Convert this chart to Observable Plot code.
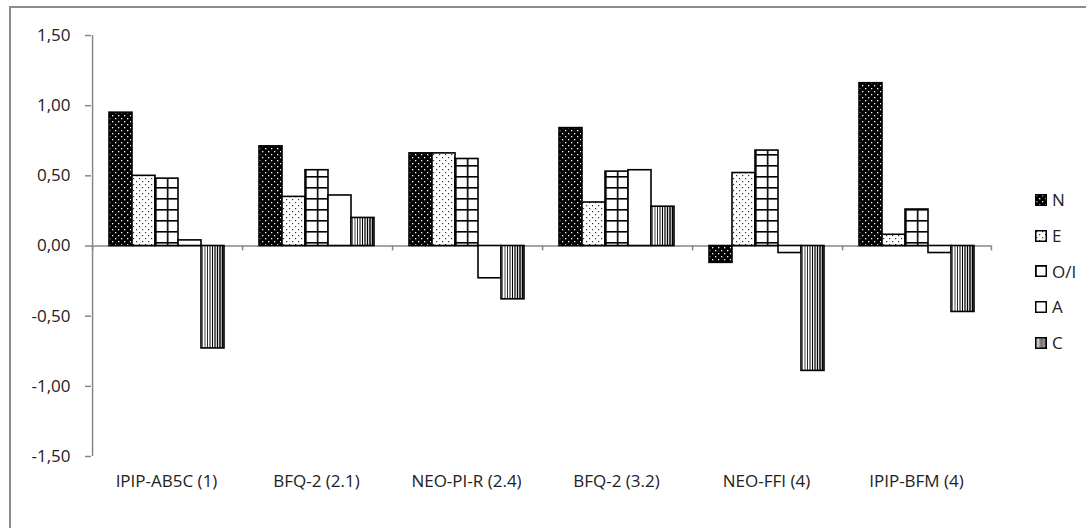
<!DOCTYPE html>
<html>
<head>
<meta charset="utf-8">
<script src="https://cdn.jsdelivr.net/npm/d3@7"></script>
<script src="https://cdn.jsdelivr.net/npm/@observablehq/plot@0.6"></script>
<style>
  body { margin: 0; background: #fff; }
  #wrap { position: relative; width: 1086px; height: 528px; overflow: hidden; font-family: "Open Sans", sans-serif; }
  #wrap > svg { position: absolute; left: 0; top: 0; }
  #border { position: absolute; left: 9px; top: 6px; width: 1100px; height: 540px;
            border-top: 2px solid #8c8c8c; border-left: 2px solid #8c8c8c; pointer-events: none; }
  #legend { position: absolute; left: 1035px; top: 182px; color: #222; font-size: 17px; }
  #legend .item { display: flex; align-items: center; height: 35.7px; }
  #legend svg { margin-right: 5px; }
</style>
</head>
<body>
<div id="wrap"><div id="border"></div><div id="legend"></div></div>
<script>
// Inventories (groups) and the five trait series
const tests = ["IPIP-AB5C (1)", "BFQ-2 (2.1)", "NEO-PI-R (2.4)", "BFQ-2 (3.2)", "NEO-FFI (4)", "IPIP-BFM (4)"];
const traits = ["N", "E", "O/I", "A", "C"];
const valuesN = [0.95, 0.71, 0.66, 0.84, -0.12, 1.16];
const valuesE = [0.50, 0.35, 0.66, 0.31, 0.52, 0.08];
const valuesO = [0.48, 0.54, 0.62, 0.53, 0.68, 0.26];
const valuesA = [0.04, 0.36, -0.23, 0.54, -0.05, -0.05];
const valuesC = [-0.73, 0.20, -0.38, 0.28, -0.89, -0.47];
const yTicks = [-1.5, -1, -0.5, 0, 0.5, 1, 1.5];

const seriesValues = [valuesN, valuesE, valuesO, valuesA, valuesC];
const rows = [];
tests.forEach((t, i) => traits.forEach((tr, j) => rows.push({test: t, trait: tr, value: seriesValues[j][i]})));

const patternId = {"N": "pat-n", "E": "pat-e", "O/I": "pat-o", "A": "pat-a", "C": "pat-c"};
const fillOf = tr => `url(#${patternId[tr]})`;

// layout
const W = 1086, H = 528;
const margin = {top: 35, right: 93, bottom: 72, left: 88};
const padOuter = 0.71;
const facetW = (W - margin.left - margin.right) / tests.length;
const step = facetW / (traits.length + 2 * padOuter);
const edge = step * (padOuter + 0.5); // distance from first bar centre to group edge

const fmt = d => d.toFixed(2).replace(".", ",");
const axisGray = "#868686";
const textColor = "#222";

const chart = Plot.plot({
  width: W,
  height: H,
  marginTop: margin.top,
  marginRight: margin.right,
  marginBottom: margin.bottom,
  marginLeft: margin.left,
  style: {fontFamily: "'Open Sans', sans-serif", fontSize: "17px", background: "transparent"},
  fx: {domain: tests, padding: 0, label: null},
  x: {domain: traits, paddingInner: 0, paddingOuter: padOuter, axis: null},
  y: {domain: [-1.5, 1.5], label: null},
  color: {type: "identity"},
  marks: [
    Plot.axisY({ticks: yTicks, tickFormat: fmt, tickSize: 6, tickPadding: 15, stroke: axisGray, fill: textColor, strokeWidth: 1.5, fontSize: 17, label: null}),
    Plot.axisFx({anchor: "bottom", tickSize: 0, tickPadding: 18, fill: textColor, fontSize: 17, label: null}),
    // vertical value axis line
    Plot.ruleX([tests[0]], {fx: d => d, x: () => traits[0], dx: -edge, y1: -1.5, y2: 1.5, stroke: axisGray, strokeWidth: 1.5}),
    // category boundary ticks under the zero line
    Plot.ruleX(tests, {fx: d => d, x: () => traits[0], dx: -edge, y1: 0, y2: -0.035, stroke: axisGray, strokeWidth: 1.5}),
    Plot.ruleX([tests[tests.length - 1]], {fx: d => d, x: () => traits[traits.length - 1], dx: edge, y1: 0, y2: -0.035, stroke: axisGray, strokeWidth: 1.5}),
    Plot.ruleY([0], {stroke: axisGray, strokeWidth: 1.5}),
    Plot.barY(rows, {fx: "test", x: "trait", y: "value", fill: d => fillOf(d.trait), stroke: "#000", strokeWidth: 1.6})
  ]
});

// pattern definitions used by the bars and the legend
function addPatterns(svgNode) {
  const defs = d3.select(svgNode).insert("defs", ":first-child");
  // N: black with white dots
  const pn = defs.append("pattern").attr("id", "pat-n").attr("patternUnits", "userSpaceOnUse").attr("width", 6).attr("height", 6);
  pn.append("rect").attr("width", 6).attr("height", 6).attr("fill", "#000");
  pn.append("rect").attr("x", 1).attr("y", 1).attr("width", 1.3).attr("height", 1.3).attr("fill", "#fff");
  pn.append("rect").attr("x", 4).attr("y", 4).attr("width", 1.3).attr("height", 1.3).attr("fill", "#fff");
  // E: white with black dots
  const pe = defs.append("pattern").attr("id", "pat-e").attr("patternUnits", "userSpaceOnUse").attr("width", 6).attr("height", 6);
  pe.append("rect").attr("width", 6).attr("height", 6).attr("fill", "#fff");
  pe.append("rect").attr("x", 1).attr("y", 1).attr("width", 1.2).attr("height", 1.2).attr("fill", "#333");
  pe.append("rect").attr("x", 4).attr("y", 4).attr("width", 1.2).attr("height", 1.2).attr("fill", "#333");
  // O/I: large grid
  const po = defs.append("pattern").attr("id", "pat-o").attr("patternUnits", "userSpaceOnUse").attr("width", 11.7).attr("height", 11);
  po.append("rect").attr("width", 11.7).attr("height", 11).attr("fill", "#fff");
  po.append("rect").attr("x", 0).attr("y", 0).attr("width", 1.6).attr("height", 11).attr("fill", "#000");
  po.append("rect").attr("x", 0).attr("y", 0).attr("width", 11.7).attr("height", 1.6).attr("fill", "#000");
  // A: plain white
  const pa = defs.append("pattern").attr("id", "pat-a").attr("patternUnits", "userSpaceOnUse").attr("width", 4).attr("height", 4);
  pa.append("rect").attr("width", 4).attr("height", 4).attr("fill", "#fff");
  // C: vertical stripes that get denser to the right
  const pc = defs.append("pattern").attr("id", "pat-c").attr("patternUnits", "objectBoundingBox")
    .attr("patternContentUnits", "objectBoundingBox").attr("width", 1).attr("height", 1);
  pc.append("rect").attr("width", 1).attr("height", 1).attr("fill", "#fff");
  const n = 9;
  for (let i = 0; i < n; ++i) {
    const w = 0.025 + 0.045 * i / (n - 1);
    pc.append("rect").attr("x", (i + 0.6) / (n + 0.2) - w / 2).attr("y", 0).attr("width", w).attr("height", 1).attr("fill", "#000");
  }
}
addPatterns(chart);
document.getElementById("wrap").prepend(chart);

// legend
const legend = d3.select("#legend");
traits.forEach(tr => {
  const item = legend.append("div").attr("class", "item");
  const sw = item.append("svg").attr("width", 12).attr("height", 12);
  sw.append("rect").attr("x", 0.75).attr("y", 0.75).attr("width", 10.5).attr("height", 10.5)
    .attr("fill", fillOf(tr)).attr("stroke", "#000").attr("stroke-width", 1.5);
  item.append("span").text(tr);
});
</script>
</body>
</html>
